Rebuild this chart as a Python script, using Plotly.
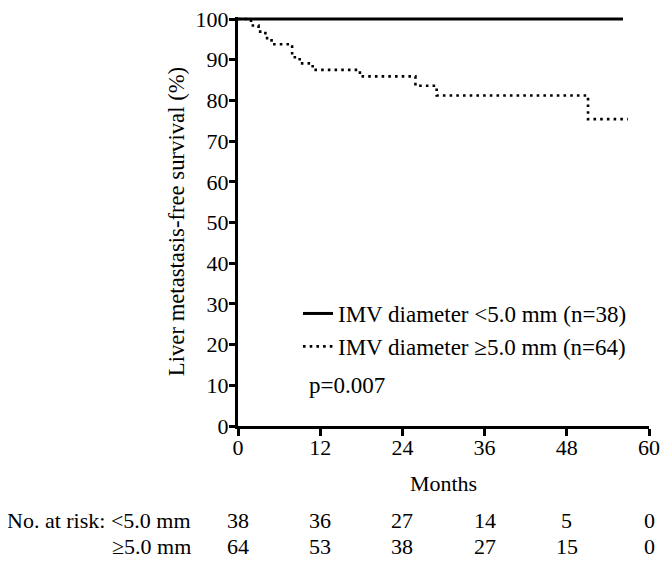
import plotly.graph_objects as go

# ---- data ----
months_small = [0, 56.2]
surv_small = [100, 100]

months_large = [0, 1.9, 3.0, 4.0, 4.9, 7.9, 9.0, 10.9, 17.8, 25.9, 29.0, 51.1, 56.9]
surv_large = [100, 98.4, 96.9, 95.3, 93.8, 90.6, 89.1, 87.5, 85.9, 83.6, 81.2, 75.4, 75.4]

series_names = ["IMV diameter <5.0 mm (n=38)", "IMV diameter \u22655.0 mm (n=64)"]
p_text = "p=0.007"

risk_times = [0, 12, 24, 36, 48, 60]
risk_small = [38, 36, 27, 14, 5, 0]
risk_large = [64, 53, 38, 27, 15, 0]
risk_labels = ["No. at risk: <5.0 mm", "\u22655.0 mm"]

x_ticks = [0, 12, 24, 36, 48, 60]
y_ticks = list(range(0, 101, 10))

FONT = "Liberation Serif"
FS = 22

# page body has an 8px margin: figure pixel = screen pixel - 8
FIG_W, FIG_H = 653, 551
X0 = 238.0   # screen x of month 0
PW = 411.0   # plot width in px
Y0 = 426.0   # screen y of 0 %
TOP = 9      # top margin in figure px
PH = (Y0 - 8) - TOP  # plot height in px


def py(screen_y):
    return (Y0 - screen_y) / PH


def px(screen_x):
    return (screen_x - X0) / PW


fig = go.Figure()
fig.add_trace(go.Scatter(
    x=months_small, y=surv_small, mode="lines", name=series_names[0],
    line=dict(color="black", width=3, shape="hv"),
))
fig.add_trace(go.Scatter(
    x=months_large, y=surv_large, mode="lines", name=series_names[1],
    line=dict(color="black", width=2.6, shape="hv", dash="2.6px,4.1px"),
))

fig.add_annotation(
    x=px(307), y=py(385), xref="paper", yref="paper",
    text=p_text, showarrow=False, xanchor="left", yanchor="middle",
    font=dict(family=FONT, size=23, color="black"),
)

rows_y = [py(520), py(546)]
for row_vals, ry, lab in zip([risk_small, risk_large], rows_y, risk_labels):
    fig.add_annotation(
        x=px(193), y=ry, xref="paper", yref="paper", text=lab,
        showarrow=False, xanchor="right", yanchor="middle",
        font=dict(family=FONT, size=FS, color="black"),
    )
    for t, v in zip(risk_times, row_vals):
        fig.add_annotation(
            x=t, y=ry, xref="x", yref="paper", text=str(v),
            showarrow=False, xanchor="center", yanchor="middle",
            font=dict(family=FONT, size=FS, color="black"),
        )

fig.update_layout(
    width=FIG_W, height=FIG_H,
    margin=dict(l=int(X0 - 8), r=int(FIG_W - (X0 - 8 + PW)), t=TOP,
                b=int(FIG_H - (Y0 - 8)), autoexpand=False),
    paper_bgcolor="white", plot_bgcolor="white",
    font=dict(family=FONT, size=FS, color="black"),
    showlegend=True,
    legend=dict(
        x=px(298), y=py(292), xanchor="left", yanchor="top",
        bgcolor="rgba(0,0,0,0)", borderwidth=0,
        font=dict(family=FONT, size=23, color="black"),
        tracegroupgap=0,
    ),
    xaxis=dict(
        range=[0, 60], tickvals=x_ticks, ticktext=[str(t) for t in x_ticks],
        showline=True, linecolor="black", linewidth=3, mirror=False,
        ticks="outside", ticklen=7, tickwidth=3, tickcolor="black",
        ticklabelstandoff=-7, ticklabeloverflow="allow", automargin=False,
        showgrid=False, zeroline=False,
        title=dict(text="Months", standoff=17, font=dict(family=FONT, size=FS)),
    ),
    yaxis=dict(
        range=[0, 100.5], tickvals=y_ticks, ticktext=[str(t) for t in y_ticks],
        showline=True, linecolor="black", linewidth=3, mirror=False,
        ticks="outside", ticklen=6, tickwidth=3, tickcolor="black",
        ticklabelstandoff=-4, ticklabeloverflow="allow", automargin=False,
        showgrid=False, zeroline=False,
        title=dict(text="Liver metastasis-free survival (%)", standoff=5,
                   font=dict(family=FONT, size=22.7)),
    ),
)

fig.write_html("out.html")
